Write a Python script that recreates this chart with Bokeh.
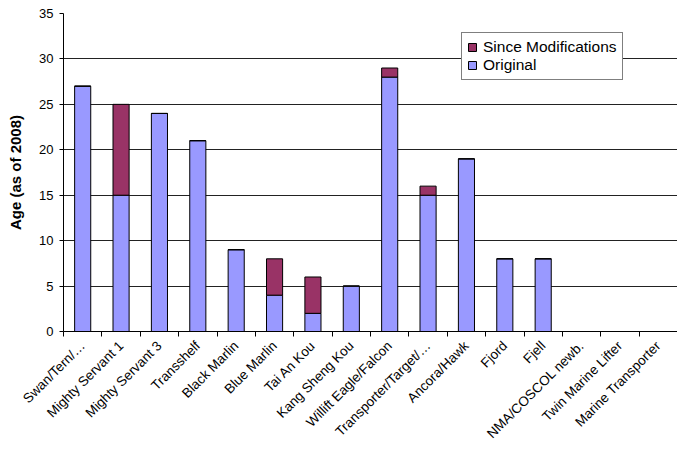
from math import pi
from bokeh.plotting import figure
from bokeh.models import Range1d, FixedTicker, Legend, LegendItem
from bokeh.embed import file_html
from bokeh.resources import INLINE

ships = ["Swan/Tern/\u2026", "Mighty Servant 1", "Mighty Servant 3", "Transshelf",
         "Black Marlin", "Blue Marlin", "Tai An Kou", "Kang Sheng Kou",
         "Willift Eagle/Falcon", "Transporter/Target/\u2026", "Ancora/Hawk", "Fjord",
         "Fjell", "NMA/COSCOL newb.", "Twin Marine Lifter", "Marine Transporter"]
original = [27, 15, 24, 21, 9, 4, 2, 5, 28, 15, 19, 8, 8, 0, 0, 0]
since_mods = [0, 10, 0, 0, 0, 4, 4, 0, 1, 1, 0, 0, 0, 0, 0, 0]
y_ticks = [0, 5, 10, 15, 20, 25, 30, 35]

n = len(ships)
xs = [i + 0.5 for i in range(n)]
tops = [o + m for o, m in zip(original, since_mods)]

FONT = "Liberation Sans"

p = figure(width=677, height=449, output_backend="svg", toolbar_location=None,
           x_range=Range1d(0, n), y_range=Range1d(0, 35),
           min_border_left=63, min_border_right=0, min_border_top=13, min_border_bottom=118)
p.outline_line_color = None
p.background_fill_color = "white"
p.border_fill_color = "white"

r_orig = p.vbar(x=xs, bottom=0, top=original, width=0.42, fill_color="#9999FF",
                line_color="black", line_width=1)
r_mod = p.vbar(x=xs, bottom=original, top=tops, width=0.42, fill_color="#993366",
               line_color="black", line_width=1)

# x axis
xa = p.xaxis[0]
xa.ticker = FixedTicker(ticks=xs, minor_ticks=list(range(n + 1)))
xa.major_label_overrides = {x: s for x, s in zip(xs, ships)}
xa.major_label_orientation = pi / 4
xa.major_tick_in = 0
xa.major_tick_out = 0
xa.minor_tick_in = 0
xa.minor_tick_out = 5
xa.minor_tick_line_color = "black"
xa.axis_line_color = "black"
xa.major_label_text_font = FONT
xa.major_label_text_font_size = "13.5px"
xa.major_label_text_color = "black"
xa.major_label_standoff = 7

# y axis
ya = p.yaxis[0]
ya.ticker = FixedTicker(ticks=y_ticks)
ya.major_tick_in = 0
ya.major_tick_out = 4
ya.minor_tick_line_color = None
ya.axis_line_color = "black"
ya.major_label_text_font = FONT
ya.major_label_text_font_size = "13px"
ya.major_label_text_color = "black"
ya.major_label_standoff = 6
ya.axis_label = "Age (as of 2008)"
ya.axis_label_text_font = FONT
ya.axis_label_text_font_size = "15px"
ya.axis_label_text_font_style = "bold"
ya.axis_label_text_color = "black"
ya.axis_label_standoff = 12

p.xgrid.grid_line_color = None
p.ygrid.ticker = FixedTicker(ticks=y_ticks)
p.ygrid.grid_line_color = "#222222"
p.ygrid.grid_line_width = 1

legend = Legend(items=[LegendItem(label="Since Modifications", renderers=[r_mod]),
                       LegendItem(label="Original", renderers=[r_orig])],
                location=(398, 251))
legend.label_text_font = FONT
legend.label_text_font_size = "15.5px"
legend.label_text_color = "black"
legend.glyph_width = 10
legend.glyph_height = 10
legend.label_standoff = 6
legend.label_height = 18
legend.spacing = 0
legend.padding = 5
legend.margin = 0
legend.border_line_color = "black"
legend.border_line_width = 1
legend.background_fill_color = "white"
legend.background_fill_alpha = 1
p.add_layout(legend, "center")

open("out.html", "w").write(file_html(p, INLINE))
